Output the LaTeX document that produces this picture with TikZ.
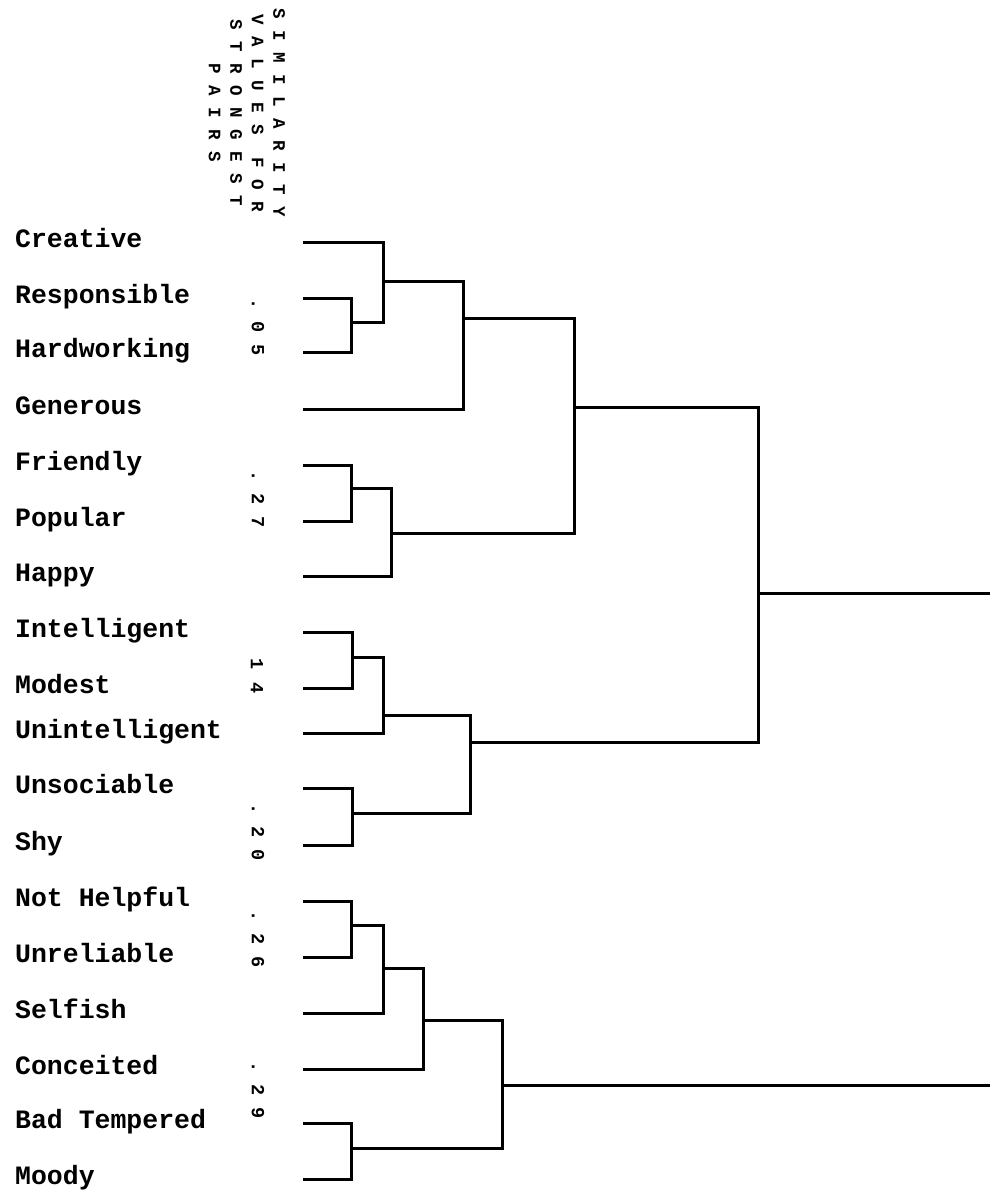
\documentclass[tikz,border=0pt]{standalone}
\usepackage{fontspec}
\newfontfamily\lblfont[Scale=1]{Liberation Mono}
\newfontfamily\hdrfont[LetterSpace=66]{Liberation Mono}
\begin{document}
\begin{tikzpicture}[x=1pt,y=-1pt,
  lbl/.style={anchor=base west,inner sep=0pt,font=\lblfont\bfseries\fontsize{26.5}{30}\selectfont},
  hdr/.style={rotate=-90,inner sep=0pt,align=center,font=\hdrfont\bfseries\fontsize{17.5}{21.5}\selectfont},
  val/.style={rotate=-90,inner sep=0pt,font=\hdrfont\bfseries\fontsize{18.5}{21.5}\selectfont},
  den/.style={line width=3pt,line cap=rect,line join=miter}]
\useasboundingbox (0,0) rectangle (989,1191);
\fill[white] (0,0) rectangle (989,1191);

% header
\node[hdr] (title) at (247,113) {SIMILARITY\\VALUES FOR\\STRONGEST\\PAIRS};

% labels
\node[lbl] (n1) at (15,247.7) {Creative};
\node[lbl] (n2) at (15,303) {Responsible};
\node[lbl] (n3) at (15,357.7) {Hardworking};
\node[lbl] (n4) at (15,414) {Generous};
\node[lbl] (n5) at (15,470) {Friendly};
\node[lbl] (n6) at (15,526) {Popular};
\node[lbl] (n7) at (15,581) {Happy};
\node[lbl] (n8) at (15,637) {Intelligent};
\node[lbl] (n9) at (15,693) {Modest};
\node[lbl] (n10) at (15,738) {Unintelligent};
\node[lbl] (n11) at (15,793) {Unsociable};
\node[lbl] (n12) at (15,850) {Shy};
\node[lbl] (n13) at (15,906) {Not Helpful};
\node[lbl] (n14) at (15,962) {Unreliable};
\node[lbl] (n15) at (15,1018) {Selfish};
\node[lbl] (n16) at (15,1074) {Conceited};
\node[lbl] (n17) at (15,1128) {Bad Tempered};
\node[lbl] (n18) at (15,1184) {Moody};

% similarity values
\node[val] (v1) at (258,327) {.05};
\node[val] (v2) at (258,499) {.27};
\node[val] (v3) at (257,676) {14};
\node[val] (v4) at (258,832) {.20};
\node[val] (v5) at (258,939) {.26};
\node[val] (v6) at (258,1090) {.29};

% leaf coordinates
\coordinate (l1) at (304,242.7);
\coordinate (l2) at (304,298);
\coordinate (l3) at (304,352.7);
\coordinate (l4) at (304,409);
\coordinate (l5) at (304,465);
\coordinate (l6) at (304,521);
\coordinate (l7) at (304,576);
\coordinate (l8) at (304,632);
\coordinate (l9) at (304,688);
\coordinate (l10) at (304,733);
\coordinate (l11) at (304,788);
\coordinate (l12) at (304,845);
\coordinate (l13) at (304,901);
\coordinate (l14) at (304,957);
\coordinate (l15) at (304,1013);
\coordinate (l16) at (304,1069);
\coordinate (l17) at (304,1123);
\coordinate (l18) at (304,1179);

% merge points (x = merge level, y = output line)
\coordinate (rh) at (351,322.7);
\coordinate (crh) at (383,281);
\coordinate (a4) at (463,318);
\coordinate (fp) at (351,488);
\coordinate (fph) at (391,533);
\coordinate (top) at (574,407);
\coordinate (im) at (352,657);
\coordinate (imu) at (383,715);
\coordinate (us) at (352,813);
\coordinate (mid) at (470,742);
\coordinate (upper) at (758,593);
\coordinate (nu) at (351,925);
\coordinate (nus) at (383,968);
\coordinate (nusc) at (423,1020);
\coordinate (bm) at (351,1148);
\coordinate (bot) at (502,1085);
\coordinate (ra) at (989,593);
\coordinate (rb) at (989,1085);

\begin{scope}[den]
\draw (l2) -- (l2 -| rh) -- (l3 -| rh) -- (l3);
\draw (l1) -- (l1 -| crh) -- (rh -| crh) -- (rh);
\draw (crh) -- (crh -| a4) -- (l4 -| a4) -- (l4);
\draw (l5) -- (l5 -| fp) -- (l6 -| fp) -- (l6);
\draw (fp) -- (fp -| fph) -- (l7 -| fph) -- (l7);
\draw (a4) -- (a4 -| top) -- (fph -| top) -- (fph);
\draw (l8) -- (l8 -| im) -- (l9 -| im) -- (l9);
\draw (im) -- (im -| imu) -- (l10 -| imu) -- (l10);
\draw (l11) -- (l11 -| us) -- (l12 -| us) -- (l12);
\draw (imu) -- (imu -| mid) -- (us -| mid) -- (us);
\draw (top) -- (top -| upper) -- (mid -| upper) -- (mid);
\draw (upper) -- (ra);
\draw (l13) -- (l13 -| nu) -- (l14 -| nu) -- (l14);
\draw (nu) -- (nu -| nus) -- (l15 -| nus) -- (l15);
\draw (nus) -- (nus -| nusc) -- (l16 -| nusc) -- (l16);
\draw (l17) -- (l17 -| bm) -- (l18 -| bm) -- (l18);
\draw (nusc) -- (nusc -| bot) -- (bm -| bot) -- (bm);
\draw (bot) -- (rb);
\end{scope}
\end{tikzpicture}
\end{document}
